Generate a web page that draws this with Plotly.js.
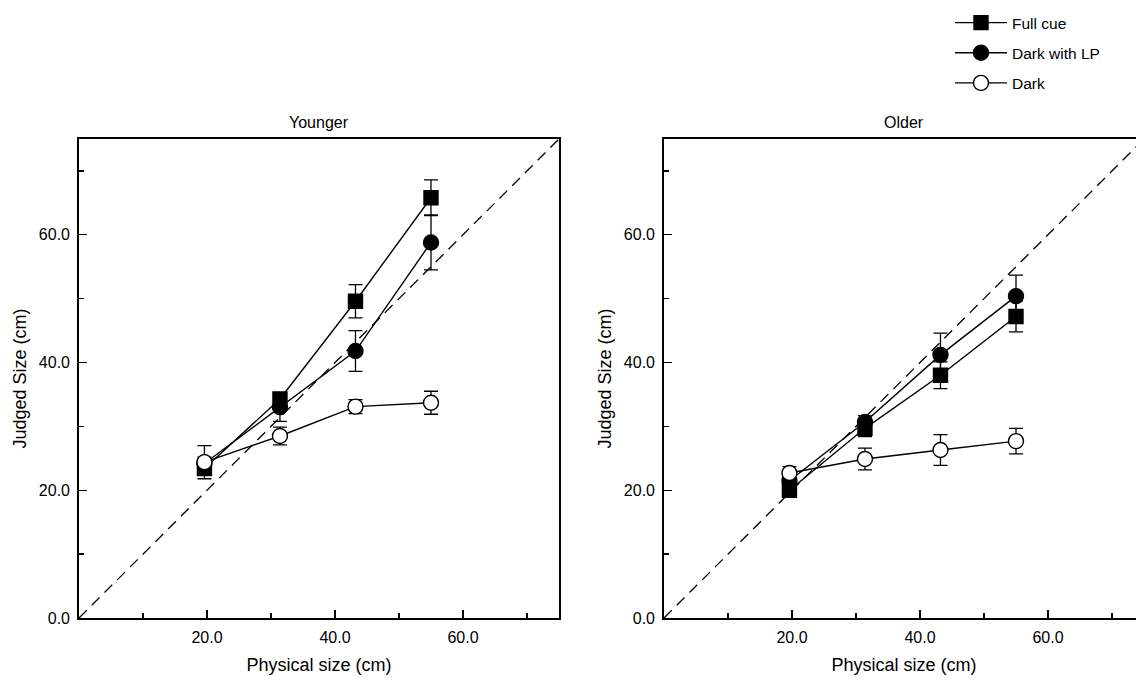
<!DOCTYPE html>
<html>
<head>
<meta charset="utf-8">
<script src="https://cdn.plot.ly/plotly-3.0.1.min.js"></script>
<style>
html,body{margin:0;padding:0;overflow:hidden;background:#fff;width:1136px;height:681px;}
#chart{width:1160px;height:681px;}
</style>
</head>
<body>
<div id="chart"></div>
<script>
// Physical sizes (cm)
const physical = [19.6, 31.4, 43.2, 55.0];

// Younger group
const youngerFull = [23.4, 34.3, 49.6, 65.8];
const youngerFullErr = [0.8, 1.0, 2.6, 2.8];
const youngerLP = [24.2, 33.0, 41.8, 58.8];
const youngerLPErr = [1.0, 2.2, 3.2, 4.3];
const youngerDark = [24.4, 28.5, 33.1, 33.7];
const youngerDarkErr = [2.6, 1.4, 1.1, 1.8];

// Older group
const olderFull = [20.0, 29.7, 38.0, 47.2];
const olderFullErr = [0.8, 1.3, 2.1, 2.4];
const olderLP = [21.5, 30.7, 41.2, 50.4];
const olderLPErr = [1.0, 1.0, 3.4, 3.3];
const olderDark = [22.7, 24.9, 26.3, 27.7];
const olderDarkErr = [1.0, 1.7, 2.4, 2.0];

// Identity line (judged = physical)
const identity = [0, 75];

const seriesNames = ['Full cue', 'Dark with LP', 'Dark'];
const xTickVals = [20, 40, 60];
const yTickVals = [0, 20, 40, 60];
const minorTickVals = [10, 30, 50, 70];

const W = 1160, H = 681;
const lineStyle = {color: '#000', width: 1.4};
const FAMILY = 'Liberation Sans, Arial, sans-serif';

function errObj(arr) {
  return {type: 'data', array: arr, visible: true, color: '#000', thickness: 1.3, width: 7};
}
function series(x, y, err, name, symbol, fill, xa, ya, show) {
  return {
    x: x, y: y, type: 'scatter', mode: 'lines+markers', name: name,
    legendgroup: name, showlegend: show,
    xaxis: xa, yaxis: ya,
    line: lineStyle,
    marker: {symbol: symbol, size: symbol === 'square' ? 14 : 15, color: fill, line: {color: '#000', width: 1.4}},
    error_y: errObj(err),
    cliponaxis: false
  };
}
function diag(xa, ya) {
  return {x: identity, y: identity, type: 'scatter', mode: 'lines', xaxis: xa, yaxis: ya,
    showlegend: false, hoverinfo: 'skip', line: {color: '#000', width: 1.3, dash: '11px,7px'}};
}

const traces = [
  diag('x', 'y'),
  series(physical, youngerFull, youngerFullErr, seriesNames[0], 'square', '#000', 'x', 'y', true),
  series(physical, youngerLP, youngerLPErr, seriesNames[1], 'circle', '#000', 'x', 'y', true),
  series(physical, youngerDark, youngerDarkErr, seriesNames[2], 'circle', '#fff', 'x', 'y', true),
  diag('x2', 'y2'),
  series(physical, olderFull, olderFullErr, seriesNames[0], 'square', '#000', 'x2', 'y2', false),
  series(physical, olderLP, olderLPErr, seriesNames[1], 'circle', '#000', 'x2', 'y2', false),
  series(physical, olderDark, olderDarkErr, seriesNames[2], 'circle', '#fff', 'x2', 'y2', false)
];

const tickFont = {family: FAMILY, size: 16, color: '#000'};
const titleFont = {family: FAMILY, size: 18, color: '#000'};
const yDom = [1 - 618 / H, 1 - 139 / H];

function xAxis(dom, anchor) {
  return {
    domain: dom, anchor: anchor, range: [0, 75],
    showline: true, mirror: true, linecolor: '#000', linewidth: 1.8,
    showgrid: false, zeroline: false,
    tickmode: 'array', tickvals: xTickVals, tickformat: '.1f',
    ticks: 'inside', ticklen: 8, tickwidth: 1.3, tickcolor: '#000',
    ticklabelstandoff: 4,
    minor: {tickmode: 'array', tickvals: minorTickVals, ticks: 'inside', ticklen: 5, tickwidth: 1.3, tickcolor: '#000', showgrid: false},
    tickfont: tickFont,
    title: {text: 'Physical size (cm)', font: titleFont, standoff: 13}
  };
}
function yAxis(anchor) {
  return {
    domain: yDom, anchor: anchor, range: [0, 75],
    showline: true, mirror: true, linecolor: '#000', linewidth: 1.8,
    showgrid: false, zeroline: false,
    tickmode: 'array', tickvals: yTickVals, tickformat: '.1f',
    ticks: 'inside', ticklen: 8, tickwidth: 1.3, tickcolor: '#000',
    ticklabelstandoff: 4,
    minor: {tickmode: 'array', tickvals: minorTickVals, ticks: 'inside', ticklen: 5, tickwidth: 1.3, tickcolor: '#000', showgrid: false},
    tickfont: tickFont,
    title: {text: 'Judged Size (cm)', font: titleFont, standoff: 7}
  };
}

const layout = {
  width: W, height: H,
  margin: {l: 0, r: 0, t: 0, b: 0},
  paper_bgcolor: '#fff', plot_bgcolor: '#fff',
  font: tickFont,
  showlegend: true,
  legend: {
    x: 950 / W, y: 1 - 6 / H, xanchor: 'left', yanchor: 'top',
    font: {family: FAMILY, size: 15.5, color: '#000'},
    tracegroupgap: 7, itemwidth: 52, bgcolor: 'rgba(0,0,0,0)'
  },
  xaxis: xAxis([79 / W, 559 / W], 'y'),
  yaxis: yAxis('x'),
  xaxis2: xAxis([664 / W, 1144 / W], 'y2'),
  yaxis2: yAxis('x2'),
  annotations: [
    {text: 'Younger', xref: 'x domain', x: 0.5, yref: 'paper', y: 1 - 123 / H, showarrow: false, xanchor: 'center', yanchor: 'middle', font: {family: FAMILY, size: 16, color: '#000'}},
    {text: 'Older', xref: 'x2 domain', x: 0.5, yref: 'paper', y: 1 - 123 / H, showarrow: false, xanchor: 'center', yanchor: 'middle', font: {family: FAMILY, size: 16, color: '#000'}}
  ]
};

Plotly.newPlot('chart', traces, layout, {displayModeBar: false, staticPlot: true});
</script>
</body>
</html>
